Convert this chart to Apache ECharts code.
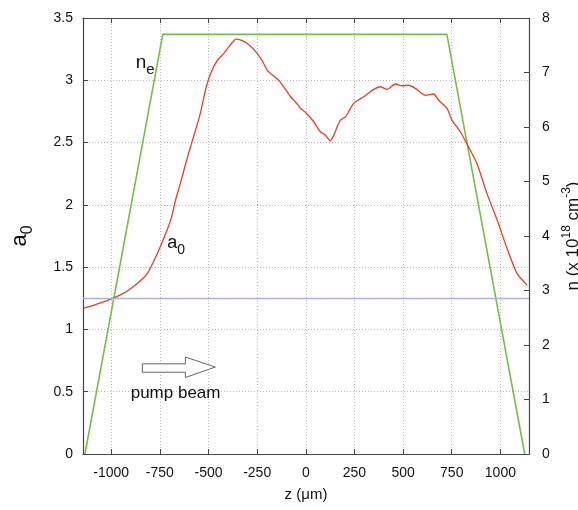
<!DOCTYPE html>
<html>
<head>
<meta charset="utf-8">
<script src="https://cdn.jsdelivr.net/npm/echarts@6/dist/echarts.min.js"></script>
<style>
html,body{margin:0;padding:0;background:#fff;}
#chart{width:578px;height:510px;}
</style>
</head>
<body>
<div id="chart"></div>
<script>
// ---- data ----
const zValues = [-1140, -1100, -1050, -1000, -950, -925, -865, -814, -763, -720, -690, -669, -645, -621, -588, -546, -511, -489, -455, -421, -390, -359, -330, -301, -275, -250, -225, -198, -170, -139, -110, -79, -50, -26, 0, 41, 75, 100, 125, 144, 161, 178, 204, 246, 298, 349, 383, 418, 460, 495, 529, 563, 614, 657, 683, 726, 751, 794, 828, 880, 931, 983, 1034, 1085, 1137];
const a0Values = [1.17, 1.19, 1.215, 1.245, 1.28, 1.30, 1.37, 1.45, 1.61, 1.77, 1.90, 2.04, 2.17, 2.31, 2.49, 2.71, 2.95, 3.055, 3.16, 3.216, 3.28, 3.33, 3.32, 3.296, 3.26, 3.216, 3.16, 3.08, 3.04, 3.00, 2.94, 2.87, 2.82, 2.774, 2.74, 2.667, 2.587, 2.56, 2.515, 2.56, 2.627, 2.68, 2.707, 2.815, 2.868, 2.927, 2.948, 2.927, 2.97, 2.956, 2.96, 2.935, 2.88, 2.89, 2.84, 2.774, 2.68, 2.587, 2.49, 2.33, 2.09, 1.88, 1.65, 1.45, 1.356];
const neZ = [-1135, -735, 725, 1125];
const neValues = [0, 7.7, 7.7, 0];
const thresholdA0 = 1.25;
const xTicks = [-1000, -750, -500, -250, 0, 250, 500, 750, 1000];
const xRange = [-1145, 1147];
const leftRange = [0, 3.5, 0.5];
const rightRange = [0, 8, 1];

const FONT = '"Liberation Sans", Arial, Helvetica, sans-serif';
const AXC = '#444';

const chart = echarts.init(document.getElementById('chart'), null, {renderer: 'canvas'});

const a0Data = zValues.map((z, i) => [z, a0Values[i]]);
const neData = neZ.map((z, i) => [z, neValues[i]]);

const option = {
  animation: false,
  backgroundColor: '#fff',
  grid: {left: 83, right: 49, top: 18, bottom: 56, containLabel: false, outerBoundsMode: 'none'},
  xAxis: [
    {
      type: 'value', position: 'bottom', min: xRange[0], max: xRange[1],
      name: 'z (\u03bcm)', nameLocation: 'middle', nameGap: 33,
      nameTextStyle: {fontFamily: FONT, fontSize: 15, color: '#111'},
      axisLine: {show: true, onZero: false, lineStyle: {color: AXC, width: 1.2}},
      axisTick: {show: true, inside: true, length: 5, customValues: xTicks, lineStyle: {color: AXC}},
      axisLabel: {customValues: xTicks, margin: 12, fontFamily: FONT, fontSize: 14, color: '#111', formatter: v => String(v)},
      splitLine: {show: true, lineStyle: {color: '#b8b8b8', type: [1, 2], width: 1}}
    },
    {
      type: 'value', position: 'top', min: xRange[0], max: xRange[1],
      axisLine: {show: true, onZero: false, lineStyle: {color: AXC, width: 1.2}},
      axisTick: {show: true, inside: true, length: 5, customValues: xTicks, lineStyle: {color: AXC}},
      axisLabel: {show: false},
      splitLine: {show: false}
    }
  ],
  yAxis: [
    {
      type: 'value', position: 'left', min: leftRange[0], max: leftRange[1], interval: leftRange[2],
      name: '{a|a}{s|0}', nameLocation: 'middle', nameGap: 52, nameRotate: 90,
      nameTextStyle: {rich: {
        a: {fontFamily: FONT, fontSize: 22, color: '#111', verticalAlign: 'bottom'},
        s: {fontFamily: FONT, fontSize: 16, color: '#111', verticalAlign: 'bottom', padding: [0, 0, -5, 0]}
      }},
      axisLine: {show: true, onZero: false, lineStyle: {color: AXC, width: 1.2}},
      axisTick: {show: true, inside: true, length: 5, lineStyle: {color: AXC}},
      axisLabel: {margin: 10, fontFamily: FONT, fontSize: 14, color: '#111'},
      splitLine: {show: true, lineStyle: {color: '#b8b8b8', type: [1, 2], width: 1}}
    },
    {
      type: 'value', position: 'right', min: rightRange[0], max: rightRange[1], interval: rightRange[2],
      name: '{t|n (x 10}{p|18}{t| cm}{p|-3}{t|)}', nameLocation: 'middle', nameGap: 26, nameRotate: 90,
      nameTextStyle: {rich: {
        t: {fontFamily: FONT, fontSize: 17, color: '#111', verticalAlign: 'bottom'},
        p: {fontFamily: FONT, fontSize: 12, color: '#111', verticalAlign: 'bottom', padding: [0, 0, 9, 0]}
      }},
      axisLine: {show: true, onZero: false, lineStyle: {color: AXC, width: 1.2}},
      axisTick: {show: true, inside: true, length: 5, lineStyle: {color: AXC}},
      axisLabel: {margin: 13, fontFamily: FONT, fontSize: 14, color: '#111'},
      splitLine: {show: false}
    }
  ],
  series: [
    {
      name: 'a0', type: 'line', xAxisIndex: 0, yAxisIndex: 0, data: a0Data,
      showSymbol: false, symbol: 'none', smooth: 0.2,
      lineStyle: {color: '#f03a26', width: 1.3},
      itemStyle: {color: '#f03a26'},
      markLine: {
        silent: true, symbol: 'none', label: {show: false},
        lineStyle: {color: '#aab2dc', type: 'solid', width: 1.4},
        data: [{yAxis: thresholdA0}]
      },
      z: 3
    },
    {
      name: 'ne', type: 'line', xAxisIndex: 0, yAxisIndex: 1, data: neData,
      showSymbol: false, symbol: 'none',
      lineStyle: {color: '#74bf4a', width: 1.6},
      itemStyle: {color: '#74bf4a'},
      z: 2
    }
  ]
};
chart.setOption(option);

// ---- annotations placed from data-space anchors ----
function px(z, v) { return chart.convertToPixel({xAxisIndex: 0, yAxisIndex: 0}, [z, v]); }
const neLbl = px(-874, 3.066);
const a0Lbl = px(-712, 1.62);
const pumpLbl = px(-900, 0.415);
const arrowA = px(-840, 0.69);

chart.setOption({
  graphic: [
    {type: 'text', x: neLbl[0], y: neLbl[1], style: {
      text: '{n|n}{e|e}', textVerticalAlign: 'bottom', textAlign: 'left',
      rich: {n: {fontFamily: FONT, fontSize: 19, fill: '#111', verticalAlign: 'bottom'},
             e: {fontFamily: FONT, fontSize: 15, fill: '#111', verticalAlign: 'bottom', padding: [0, 0, -5, 0]}}
    }},
    {type: 'text', x: a0Lbl[0], y: a0Lbl[1], style: {
      text: '{a|a}{s|0}', textVerticalAlign: 'bottom', textAlign: 'left',
      rich: {a: {fontFamily: FONT, fontSize: 18, fill: '#111', verticalAlign: 'bottom'},
             s: {fontFamily: FONT, fontSize: 14, fill: '#111', verticalAlign: 'bottom', padding: [0, 0, -5, 0]}}
    }},
    {type: 'text', x: pumpLbl[0], y: pumpLbl[1], style: {
      text: 'pump beam', fontFamily: FONT, fontSize: 17, fill: '#111', textVerticalAlign: 'bottom', textAlign: 'left'
    }},
    {type: 'polygon', x: arrowA[0], y: arrowA[1], shape: {points: [[0, -4.2], [43, -4.2], [43, -11], [73, -1], [43, 9.5], [43, 4.2], [0, 4.2]]},
      style: {fill: '#fff', stroke: '#666', lineWidth: 1}}
  ]
});
</script>
</body>
</html>
